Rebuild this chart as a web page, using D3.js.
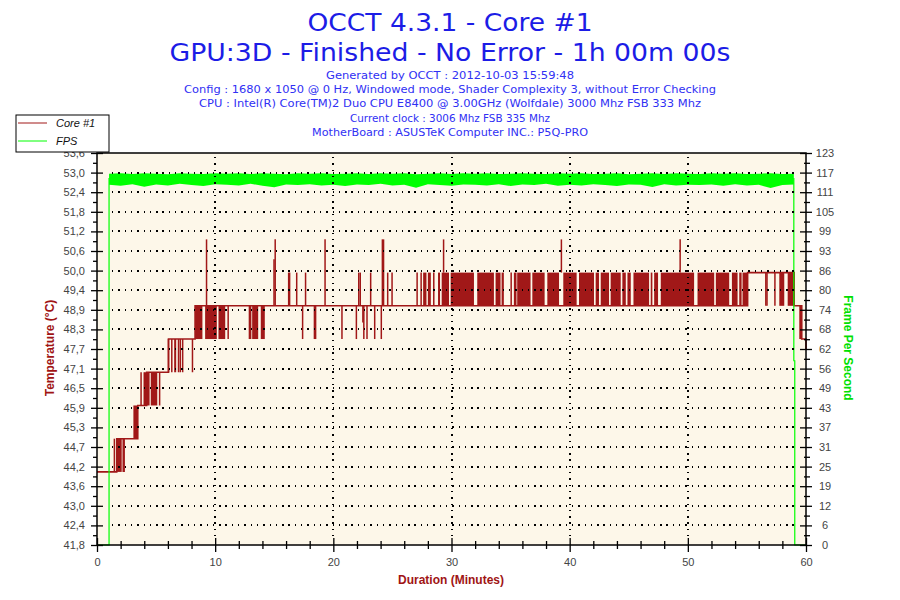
<!DOCTYPE html>
<html>
<head>
<meta charset="utf-8">
<script src="https://cdn.jsdelivr.net/npm/d3@7"></script>
<style>
body { margin: 0; background: #fff; }
</style>
</head>
<body>
<svg id="chart" width="900" height="600"></svg>
<script>
// ---- data ----
const titleLines = ["OCCT 4.3.1 - Core #1", "GPU:3D - Finished - No Error - 1h 00m 00s"];
const infoLines = [
    "Generated by OCCT : 2012-10-03 15:59:48",
    "Config : 1680 x 1050 @ 0 Hz, Windowed mode, Shader Complexity 3, without Error Checking",
    "CPU : Intel(R) Core(TM)2 Duo CPU E8400 @ 3.00GHz (Wolfdale) 3000 Mhz FSB 333 Mhz",
    "Current clock : 3006 Mhz FSB 335 Mhz",
    "MotherBoard : ASUSTeK Computer INC.: P5Q-PRO"
];
const seriesNames = ["Core #1", "FPS"];

const tempTickLabels = ["41,8", "42,4", "43,0", "43,6", "44,2", "44,7", "45,3", "45,9", "46,5", "47,1", "47,7",
    "48,3", "48,9", "49,4", "50,0", "50,6", "51,2", "51,8", "52,4", "53,0", "53,6"];
const fpsTickLabels = ["0", "6", "12", "19", "25", "31", "37", "43", "49", "56", "62",
    "68", "74", "80", "86", "93", "99", "105", "111", "117", "123"];
const minuteLabels = [0, 10, 20, 30, 40, 50, 60];

// temperature: step level changes [minute, °C]
const tempBase = [[0, 44], [1.67, 45], [3.45, 46], [4.2, 47], [6.05, 48], [8.3, 49],
    [55.06, 50], [59.0, 49], [59.64, 48], [60, 47.7]];

// dense flicker between two levels [from, to, low, high]
const tempBands = [
    [1.67, 2.09, 44, 45], [3.08, 3.45, 45, 46], [4.2, 4.45, 46, 47], [4.55, 5.1, 46, 47],
    [6.53, 6.7, 47, 48], [8.3, 8.92, 48, 49], [9.15, 10.14, 48, 49], [10.28, 10.85, 48, 49],
    [13.13, 13.64, 48, 49], [13.86, 14.2, 48, 49],
    [27.6, 27.88, 49, 50], [28.0, 28.25, 49, 50], [28.86, 29.03, 49, 50], [29.17, 29.79, 49, 50],
    [29.93, 31.9, 49, 50], [32.18, 33.59, 49, 50], [33.73, 34.15, 49, 50], [34.24, 34.43, 49, 50],
    [35.28, 35.5, 49, 50], [35.56, 36.69, 49, 50], [36.84, 37.88, 49, 50], [38.11, 39.1, 49, 50],
    [39.46, 40.59, 49, 50], [40.79, 42.06, 49, 50], [42.2, 42.48, 49, 50], [42.63, 43.33, 49, 50],
    [43.47, 44.32, 49, 50], [44.46, 44.75, 49, 50], [44.89, 45.17, 49, 50], [45.4, 46.72, 49, 50],
    [46.86, 47.0, 49, 50], [47.15, 47.48, 49, 50], [47.71, 50.53, 49, 50], [50.82, 52.23, 49, 50],
    [52.37, 53.5, 49, 50], [53.73, 54.21, 49, 50], [54.35, 54.55, 49, 50], [54.63, 55.06, 49, 50],
    [57.74, 58.16, 49, 50], [58.45, 59.0, 49, 50], [59.43, 59.64, 48, 49]
];

// single short excursions [minute, from, to]
const tempSpikes = [
    [1.47, 44, 45], [2.22, 45, 44], [2.3, 45, 44],
    [3.73, 46, 47], [4.0, 46, 47], [4.1, 46, 47], [5.3, 47, 46],
    [6.05, 48, 47], [6.33, 48, 47], [6.9, 48, 47], [7.05, 48, 47], [7.25, 48, 47], [8.08, 48, 47],
    [9.27, 49, 51], [11.1, 49, 48], [12.9, 49, 48], [13.0, 49, 48],
    [14.98, 49, 50.4], [15.08, 49, 51], [16.22, 49, 50], [16.3, 49, 50], [16.9, 49, 50],
    [17.4, 49, 48], [17.65, 49, 50], [18.4, 49, 48], [18.5, 49, 48], [19.3, 49, 51], [20.73, 49, 48],
    [21.95, 49, 48], [22.15, 49, 50], [22.28, 49, 50], [22.5, 49, 48.5], [22.58, 49, 48],
    [22.85, 49, 48], [23.16, 49, 50], [23.5, 49, 48], [24.06, 49, 48], [24.15, 49, 51],
    [24.25, 49, 51], [24.6, 49, 50], [24.97, 49, 50],
    [27.09, 49, 50], [27.43, 49, 50], [28.5, 49, 50], [29.33, 50, 51], [35.05, 49, 50],
    [39.3, 50, 51], [49.35, 50, 51], [56.6, 50, 49], [56.7, 50, 49], [57.37, 50, 49]
];

// FPS: noisy band, high / low per minute
const fpsMinutes = [1.02, 2, 3, 4, 5, 6, 7, 8, 9, 10, 11, 12, 13, 14, 15, 16, 17, 18, 19, 20,
    21, 22, 23, 24, 25, 26, 27, 28, 29, 30, 31, 32, 33, 34, 35, 36, 37, 38, 39, 40,
    41, 42, 43, 44, 45, 46, 47, 48, 49, 50, 51, 52, 53, 54, 55, 56, 57, 58, 58.97];
const fpsHigh = [116.9, 117, 116.8, 117, 116.9, 116.7, 117, 116.9, 116.8, 117,
    116.9, 117, 116.8, 117, 116.9, 116.7, 117, 116.9, 117, 116.8,
    116.9, 117, 116.8, 117, 116.9, 117, 116.7, 116.9, 117, 116.8,
    117, 116.9, 117, 116.8, 116.9, 117, 116.9, 116.8, 117, 116.9,
    117, 116.8, 116.9, 117, 116.7, 116.9, 117, 116.8, 117, 116.9,
    116.8, 117, 116.9, 117, 116.8, 116.9, 117, 116.8, 116.9];
const fpsLow = [113.4, 113.1, 113.6, 112.8, 113.5, 113.2, 113.7, 113.3, 113.0, 113.6,
    113.4, 113.2, 113.7, 113.1, 112.6, 113.5, 113.3, 113.6, 113.2, 113.4,
    113.0, 113.5, 113.3, 113.7, 113.2, 113.4, 112.5, 113.6, 113.3, 113.1,
    113.5, 113.4, 113.2, 113.6, 113.0, 113.5, 113.3, 113.7, 113.1, 113.4,
    113.2, 113.6, 113.3, 113.0, 113.5, 113.4, 112.7, 113.6, 113.2, 113.4,
    113.3, 113.5, 113.1, 113.6, 113.2, 113.4, 112.4, 113.3, 113.5];
const fpsStart = [[0, 0], [1.02, 0], [1.02, 115.5]];
const fpsTail = [[58.97, 115.5], [58.97, 58], [59.05, 58], [59.05, 0], [60, 0]];

// ---- layout ----
const plot = { left: 97, right: 806, top: 153, bottom: 545 };
const tempColor = "#a11818";
const fpsColor = "#00ff00";
const tickFont = "'Liberation Sans', Arial, sans-serif";

const svg = d3.select("#chart");

const x = d3.scaleLinear().domain([0, 60]).range([plot.left, plot.right]);
const yT = d3.scaleLinear().domain([41.8, 53.6]).range([plot.bottom, plot.top]);
const yF = d3.scaleLinear().domain([0, 123.4]).range([plot.bottom, plot.top]);

// titles
svg.selectAll("text.title")
    .data(titleLines)
    .join("text")
    .attr("class", "title")
    .attr("x", 450)
    .attr("y", (d, i) => 31 + i * 30)
    .attr("text-anchor", "middle")
    .attr("font-family", "'DejaVu Sans', Verdana, sans-serif")
    .attr("font-size", 25)
    .attr("fill", "#1c1ce6")
    .attr("textLength", (d, i) => [285, 561][i])
    .attr("lengthAdjust", "spacingAndGlyphs")
    .text(d => d);

svg.selectAll("text.info")
    .data(infoLines)
    .join("text")
    .attr("class", "info")
    .attr("x", 450)
    .attr("y", (d, i) => 79 + i * 14.2)
    .attr("text-anchor", "middle")
    .attr("font-family", "'DejaVu Sans', Verdana, sans-serif")
    .attr("font-size", 11)
    .attr("fill", "#3030f4")
    .attr("textLength", (d, i) => [248, 532, 502, 200, 276][i])
    .attr("lengthAdjust", "spacingAndGlyphs")
    .text(d => d);

// plot background
svg.append("rect")
    .attr("x", plot.left)
    .attr("y", plot.top)
    .attr("width", plot.right - plot.left)
    .attr("height", plot.bottom - plot.top)
    .attr("fill", "#fdf7e9");

const data = svg.append("g");

// temperature
data.selectAll("rect.band")
    .data(tempBands)
    .join("rect")
    .attr("class", "band")
    .attr("x", d => x(d[0]))
    .attr("width", d => Math.max(1.5, x(d[1]) - x(d[0])))
    .attr("y", d => yT(d[3]))
    .attr("height", d => yT(d[2]) - yT(d[3]))
    .attr("fill", tempColor);

data.selectAll("line.spike")
    .data(tempSpikes)
    .join("line")
    .attr("class", "spike")
    .attr("x1", d => x(d[0]))
    .attr("x2", d => x(d[0]))
    .attr("y1", d => yT(d[1]))
    .attr("y2", d => yT(d[2]))
    .attr("stroke", tempColor)
    .attr("stroke-width", 1.5);

data.append("path")
    .datum(tempBase)
    .attr("fill", "none")
    .attr("stroke", tempColor)
    .attr("stroke-width", 1.6)
    .attr("d", d3.line().x(d => x(d[0])).y(d => yT(d[1])).curve(d3.curveStepAfter));

// fps
data.append("path")
    .datum(fpsMinutes)
    .attr("fill", fpsColor)
    .attr("d", d3.area()
        .x(d => x(d))
        .y0((d, i) => yF(fpsLow[i]))
        .y1((d, i) => yF(fpsHigh[i])));

[fpsStart, fpsTail].forEach(seg => {
    data.append("path")
        .datum(seg)
        .attr("fill", "none")
        .attr("stroke", fpsColor)
        .attr("stroke-width", 1.2)
        .attr("d", d3.line().x(d => x(d[0])).y(d => yF(d[1])));
});

// dotted grid on top of the data
const tempTickPos = tempTickLabels.map((d, i) => 41.8 + i * (53.6 - 41.8) / 20);
const fpsTickPos = fpsTickLabels.map((d, i) => i * 123.4 / 20);

const grid = svg.append("g")
    .attr("fill", "none")
    .attr("stroke", "#000")
    .attr("stroke-width", 1.4)
    .attr("stroke-dasharray", "1.4 4.9")
    .attr("shape-rendering", "crispEdges");

grid.selectAll("line.h")
    .data(tempTickPos.slice(1, -1))
    .join("line")
    .attr("class", "h")
    .attr("x1", plot.left + 15)
    .attr("x2", plot.right - 10)
    .attr("y1", d => Math.round(yT(d)))
    .attr("y2", d => Math.round(yT(d)));

grid.selectAll("line.v")
    .data(minuteLabels.slice(1, -1))
    .join("line")
    .attr("class", "v")
    .attr("x1", d => Math.round(x(d)))
    .attr("x2", d => Math.round(x(d)))
    .attr("y1", plot.top + 4)
    .attr("y2", plot.bottom - 6);

// axes
function crossTicks(g, len, vertical) {
    g.selectAll(".tick line").attr(vertical ? "x1" : "y1", vertical ? len : -len);
}

function styleAxis(g) {
    g.select(".domain").remove();
    g.selectAll(".tick line").attr("stroke", "#000").attr("stroke-width", 1.3);
    g.selectAll("text")
        .attr("font-family", tickFont)
        .attr("font-size", 11)
        .attr("fill", "#444");
}

const tempMinor = tempTickPos.slice(0, -1).map((d, i) => (d + tempTickPos[i + 1]) / 2);
const fpsMinor = fpsTickPos.slice(0, -1).map((d, i) => (d + fpsTickPos[i + 1]) / 2);
const minuteMinor = [2, 4, 6, 8, 12, 14, 16, 18, 22, 24, 26, 28, 32, 34, 36, 38, 42, 44, 46, 48, 52, 54, 56, 58];

// left axis
svg.append("g")
    .attr("transform", `translate(${plot.left},0)`)
    .call(d3.axisLeft(yT).tickValues(tempMinor).tickSize(4).tickFormat(""))
    .call(styleAxis)
    .call(g => crossTicks(g, 0, true));

svg.append("g")
    .attr("transform", `translate(${plot.left},0)`)
    .call(d3.axisLeft(yT).tickValues(tempTickPos).tickSize(6).tickPadding(6)
        .tickFormat((d, i) => tempTickLabels[i]))
    .call(styleAxis)
    .call(g => crossTicks(g, 6, true));

// right axis
svg.append("g")
    .attr("transform", `translate(${plot.right},0)`)
    .call(d3.axisRight(yF).tickValues(fpsMinor).tickSize(4).tickFormat(""))
    .call(styleAxis)
    .call(g => g.selectAll(".tick line").attr("x1", -2));

svg.append("g")
    .attr("transform", `translate(${plot.right},0)`)
    .call(d3.axisRight(yF).tickValues(fpsTickPos).tickSize(6).tickPadding(8)
        .tickFormat((d, i) => fpsTickLabels[i]))
    .call(styleAxis)
    .call(g => g.selectAll(".tick line").attr("x1", -6))
    .call(g => g.selectAll("text").attr("text-anchor", "middle").attr("x", 19));

// bottom axis
svg.append("g")
    .attr("transform", `translate(0,${plot.bottom})`)
    .call(d3.axisBottom(x).tickValues(minuteMinor).tickSize(4).tickFormat(""))
    .call(styleAxis)
    .call(g => g.selectAll(".tick line").attr("y1", -4));

svg.append("g")
    .attr("transform", `translate(0,${plot.bottom})`)
    .call(d3.axisBottom(x).tickValues(minuteLabels).tickSize(7).tickPadding(6))
    .call(styleAxis)
    .call(g => g.selectAll(".tick line").attr("y1", -7));

// frame
svg.append("rect")
    .attr("x", plot.left)
    .attr("y", plot.top)
    .attr("width", plot.right - plot.left)
    .attr("height", plot.bottom - plot.top)
    .attr("fill", "none")
    .attr("stroke", "#000")
    .attr("stroke-width", 1.5);

// axis titles
const axisFont = "'Liberation Sans', Arial, sans-serif";
svg.append("text")
    .attr("x", 451)
    .attr("y", 584)
    .attr("text-anchor", "middle")
    .attr("font-family", axisFont)
    .attr("font-weight", "bold")
    .attr("font-size", 12)
    .attr("fill", "#a01414")
    .text("Duration (Minutes)");

svg.append("text")
    .attr("transform", "translate(54,348) rotate(-90)")
    .attr("text-anchor", "middle")
    .attr("font-family", axisFont)
    .attr("font-weight", "bold")
    .attr("font-size", 12)
    .attr("fill", "#a01414")
    .text("Temperature (°C)");

svg.append("text")
    .attr("transform", "translate(844,348) rotate(90)")
    .attr("text-anchor", "middle")
    .attr("font-family", axisFont)
    .attr("font-weight", "bold")
    .attr("font-size", 12)
    .attr("fill", "#00e000")
    .text("Frame Per Second");

// legend
const legend = svg.append("g").attr("transform", "translate(16,115)");
legend.append("rect")
    .attr("width", 93)
    .attr("height", 37)
    .attr("fill", "#fff")
    .attr("stroke", "#000")
    .attr("stroke-width", 1);

legend.selectAll("g.item")
    .data(seriesNames)
    .join("g")
    .attr("class", "item")
    .attr("transform", (d, i) => `translate(0,${8 + i * 18})`)
    .each(function (d, i) {
        const item = d3.select(this);
        item.append("line")
            .attr("x1", 2).attr("x2", 31)
            .attr("stroke", [tempColor, fpsColor][i])
            .attr("stroke-width", 1);
        item.append("text")
            .attr("x", 40)
            .attr("y", 4)
            .attr("font-family", tickFont)
            .attr("font-style", "italic")
            .attr("font-size", 11)
            .attr("fill", "#111")
            .text(d);
    });
</script>
</body>
</html>
